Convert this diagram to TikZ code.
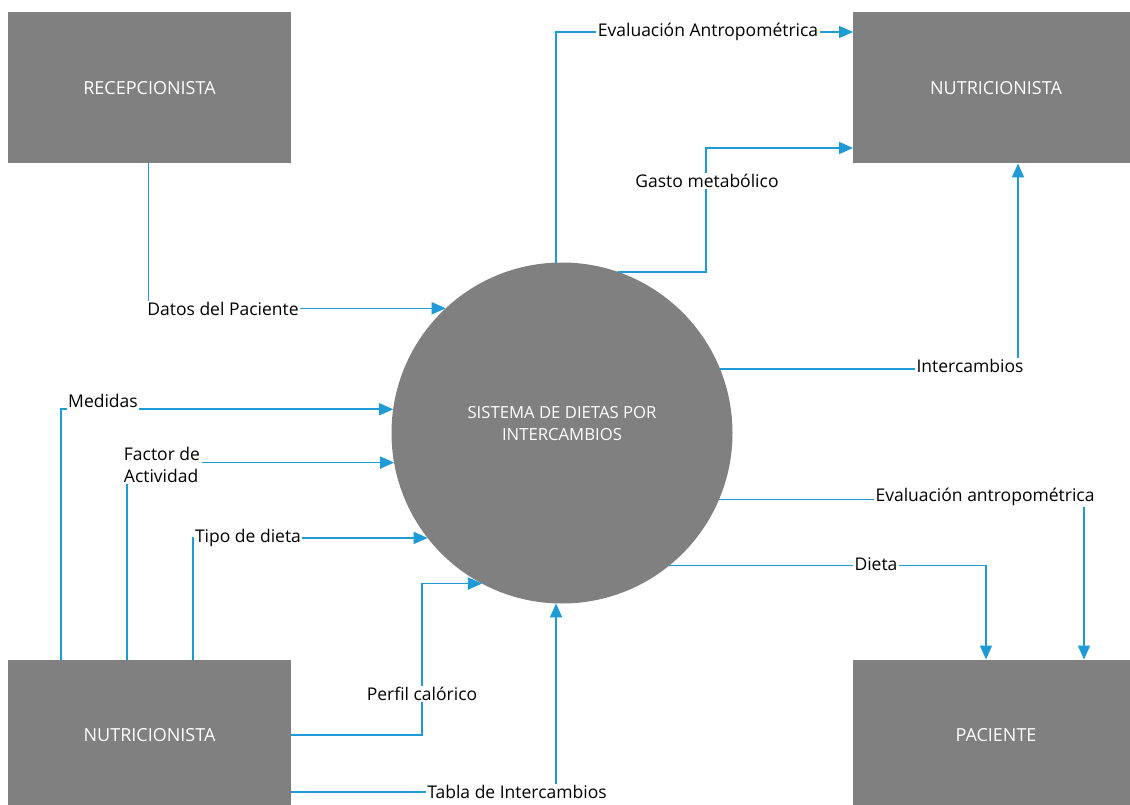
\documentclass[tikz,border=0pt]{standalone}
\usepackage{fontspec}
\setmainfont{Open Sans}
\usetikzlibrary{arrows.meta}
\definecolor{flowblue}{RGB}{30,155,215}
\definecolor{entgray}{RGB}{128,128,128}
\tikzset{
  entity/.style={fill=entgray, draw=none, minimum width=283pt, minimum height=151pt,
    text=white, font=\fontsize{18}{22}\selectfont, inner sep=0pt, outer sep=0pt},
  process/.style={circle, fill=entgray, draw=none, minimum size=341pt, inner sep=0pt,
    outer sep=0pt},
  proctext/.style={text=white, align=center, font=\fontsize{16.7}{22}\selectfont, inner sep=0pt},
  flow/.style={draw=flowblue, line width=1.6pt,
    -{Triangle[length=14pt, width=12pt]}},
  lab/.style={fill=white, inner sep=1.5pt, text=black, font=\fontsize{17.5}{22}\selectfont}
}
\begin{document}
\begin{tikzpicture}[x=1pt, y=-1pt]
\useasboundingbox (0,0) rectangle (1130,805);
\clip (0,0) rectangle (1130,805);
\fill[white] (0,0) rectangle (1130,805);

% external entities and the central process
\node[entity] (rec) at (149.5,88) {RECEPCIONISTA};
\node[entity, minimum width=286pt] (nr) at (996,88) {NUTRICIONISTA};
\node[entity] (nl) at (149.5,735) {NUTRICIONISTA};
\node[entity, minimum width=286pt] (np) at (996,735) {PACIENTE};
\node[process] (sys) at (562,433) {};
\node[proctext] (systxt) at (562,424) {SISTEMA DE DIETAS POR\\INTERCAMBIOS};

% helper coordinates for bends
\coordinate (gx) at (706,0);
\coordinate (px) at (422,0);
\coordinate (gt) at ([yshift=-60pt]nr.west);

% flows into the process
\draw[flow] ([xshift=-1pt]rec.south) |- (sys.133.6);
\draw[flow] ([xshift=-88.5pt]nl.north) |- (sys.172.9);
\draw[flow] ([xshift=-22.5pt]nl.north) |- (sys.190.8);
\draw[flow] ([xshift=43.5pt]nl.north) |- (sys.218.1);
\draw[flow] (nl.east) -| (px |- sys.242.6) -- (sys.242.6);
\draw[flow] ([yshift=-57pt]nl.east) -| (sys.268.3);

% flows out of the process
\draw[flow] (sys.92) |- ([yshift=56pt]nr.west);
\draw[flow] (sys.71.3) -| (gx |- gt) -- (gt);
\draw[flow] (sys.22.8) -| ([xshift=22pt]nr.south);
\draw[flow] (sys.337.9) -| ([xshift=88pt]np.north);
\draw[flow] (sys.309.6) -| ([xshift=-10pt]np.north);

% flow labels
\node[lab] (ldatos) at (223,309) {Datos del Paciente};
\node[lab] (levtop) at (708,32) {Evaluación Antropométrica};
\node[lab] (lgasto) at (707,181) {Gasto metabólico};
\node[lab] (linter) at (970,366) {Intercambios};
\node[lab] (levright) at (985,497) {Evaluación antropométrica};
\node[lab] (ldieta) at (876,564) {Dieta};
\node[lab, inner ysep=5pt] (lmed) at (103,401) {Medidas};
\node[lab, align=left] (lfact) at (162,465) {Factor de\\Actividad};
\node[lab] (ltipo) at (248,538) {Tipo de dieta};
\node[lab] (lperf) at (422,694) {Perfil calórico};
\node[lab] (ltabla) at (517,792) {Tabla de Intercambios};
\end{tikzpicture}
\end{document}
